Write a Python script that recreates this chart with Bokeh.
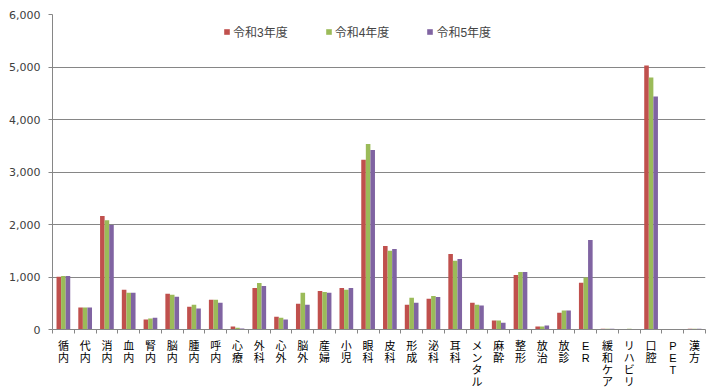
from bokeh.plotting import figure
from bokeh.models import (ColumnDataSource, Range1d, FixedTicker, NumeralTickFormatter,
                          Legend, LegendItem)
from bokeh.transform import dodge
from bokeh.embed import file_html
from bokeh.resources import INLINE

categories = ["循内", "代内", "消内", "血内", "腎内", "脳内", "腫内", "呼内", "心療", "外科",
              "心外", "脳外", "産婦", "小児", "眼科", "皮科", "形成", "泌科", "耳科", "メンタル",
              "麻酔", "整形", "放治", "放診", "ER", "緩和ケア", "リハビリ", "口腔", "PET", "漢方"]
series_names = ["令和3年度", "令和4年度", "令和5年度"]
r3 = [1005, 420, 2160, 755, 190, 680, 435, 565, 55, 790, 245, 490, 735, 790, 3235, 1590,
      470, 585, 1440, 510, 170, 1040, 55, 320, 890, 15, 0, 5030, 0, 15]
r4 = [1020, 420, 2080, 700, 210, 660, 470, 565, 35, 885, 225, 700, 715, 755, 3535, 1500,
      605, 640, 1310, 470, 170, 1095, 55, 360, 990, 15, 15, 4800, 0, 15]
r5 = [1020, 420, 1990, 700, 225, 625, 400, 510, 20, 830, 190, 470, 700, 790, 3420, 1535,
      510, 620, 1345, 455, 130, 1095, 75, 360, 1705, 15, 0, 4440, 0, 15]
y_ticks = [0, 1000, 2000, 3000, 4000, 5000, 6000]

colors = ["#C0504D", "#9BBB59", "#8064A2"]
n = len(categories)
idx = list(range(n))

src = ColumnDataSource(dict(x=idx, r3=r3, r4=r4, r5=r5))

p = figure(width=720, height=391, output_backend="svg", toolbar_location=None,
           x_range=Range1d(-0.5, n - 0.5), y_range=Range1d(0, 6000),
           min_border_left=52, min_border_right=15, min_border_top=14, min_border_bottom=62)
p.outline_line_color = None
p.background_fill_color = "white"
p.border_fill_color = "white"

bw = 0.21
renderers = []
for off, col, key in zip([-bw, 0, bw], colors, ["r3", "r4", "r5"]):
    r = p.vbar(x=dodge("x", off), top=key, width=bw, source=src,
               fill_color=col, line_color=None)
    renderers.append(r)

# y axis
p.yaxis.ticker = FixedTicker(ticks=y_ticks)
p.yaxis.formatter = NumeralTickFormatter(format="0,0")
p.yaxis.major_label_text_font = "DejaVu Sans"
p.yaxis.major_label_text_font_size = "11px"
p.yaxis.major_label_text_color = "#404040"
p.yaxis.axis_line_color = "#868686"
p.yaxis.major_tick_line_color = "#868686"
p.yaxis.major_tick_out = 4
p.yaxis.major_tick_in = 0
p.yaxis.minor_tick_line_color = None
p.yaxis.major_label_standoff = 8

# x axis: labels at category centres, tick marks at boundaries (minor ticks)
p.xaxis.ticker = FixedTicker(ticks=idx, minor_ticks=[i - 0.5 for i in range(n + 1)])
p.xaxis.major_label_overrides = {i: "\n".join(list(c)) for i, c in enumerate(categories)}
p.xaxis.major_label_text_font = "Liberation Sans, Noto Sans CJK JP"
p.xaxis.major_label_text_font_size = "11px"
p.xaxis.major_label_text_color = "black"
p.xaxis.major_label_text_line_height = 1.0
p.xaxis.major_label_standoff = 6
p.xaxis.axis_line_color = "#868686"
p.xaxis.major_tick_line_color = None
p.xaxis.major_tick_out = 0
p.xaxis.major_tick_in = 0
p.xaxis.minor_tick_line_color = "#868686"
p.xaxis.minor_tick_out = 4
p.xaxis.minor_tick_in = 0

p.xgrid.grid_line_color = None
p.ygrid.ticker = FixedTicker(ticks=y_ticks)
p.ygrid.grid_line_color = "#868686"
p.ygrid.grid_line_width = 1

legend = Legend(items=[LegendItem(label=nm, renderers=[r]) for nm, r in zip(series_names, renderers)],
                orientation="horizontal", location=(171, 289),
                border_line_color=None, background_fill_alpha=0,
                label_text_font="Liberation Sans, Noto Sans CJK JP", label_text_font_size="12px",
                glyph_width=7, glyph_height=7, label_standoff=3, spacing=37,
                padding=0, margin=0)
p.add_layout(legend)

open("out.html", "w").write(file_html(p, INLINE))
